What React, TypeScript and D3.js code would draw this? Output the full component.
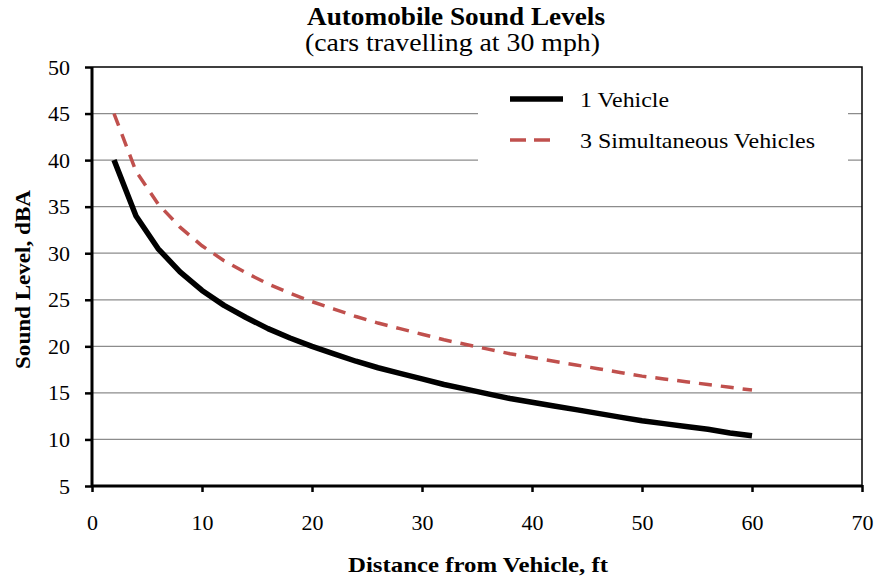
import React, { useEffect, useRef } from 'react';
import * as d3 from 'd3';

// distance from vehicle, ft
const distances = [2, 4, 6, 8, 10, 12, 14, 16, 18, 20, 22, 24, 26, 28, 30,
    32, 34, 36, 38, 40, 42, 44, 46, 48, 50, 52, 54, 56, 58, 60];

// sound level, dBA
const oneVehicle = [40.0, 34.0, 30.5, 28.0, 26.0, 24.4, 23.1, 21.9, 20.9, 20.0, 19.2, 18.4, 17.7, 17.1, 16.5,
    15.9, 15.4, 14.9, 14.4, 14.0, 13.6, 13.2, 12.8, 12.4, 12.0, 11.7, 11.4, 11.1, 10.7, 10.4];
const threeVehicles = [45.0, 38.8, 35.3, 32.8, 30.8, 29.2, 27.9, 26.7, 25.7, 24.8, 24.0, 23.2, 22.5, 21.9, 21.3,
    20.7, 20.2, 19.7, 19.2, 18.8, 18.4, 18.0, 17.6, 17.2, 16.8, 16.5, 16.2, 15.9, 15.6, 15.3];

const xTicks = [0, 10, 20, 30, 40, 50, 60, 70];
const yTicks = [5, 10, 15, 20, 25, 30, 35, 40, 45, 50];

const seriesNames = ["1 Vehicle", "3 Simultaneous Vehicles"];

export default function App() {
    const ref = useRef<SVGSVGElement>(null);

    useEffect(() => {
        const svg = d3.select(ref.current);
        svg.selectAll("*").remove();

        const width = 877;
        const height = 580;
        const margin = {top: 67, right: 15, bottom: 94, left: 92};
        const font = "'Liberation Serif'";

        const xScale = d3.scaleLinear().domain([0, 70]).range([margin.left, width - margin.right]);
        const yScale = d3.scaleLinear().domain([5, 50]).range([height - margin.bottom, margin.top]);

        // gridlines
        svg.append("g")
            .selectAll("line")
            .data(yTicks.filter(d => d > 5 && d < 50))
            .enter()
            .append("line")
            .attr("x1", xScale(0))
            .attr("x2", xScale(70))
            .attr("y1", d => yScale(d))
            .attr("y2", d => yScale(d))
            .attr("stroke", "#8c8c8c")
            .attr("stroke-width", 1.2);

        // plot border (top and right)
        svg.append("path")
            .attr("d", `M${xScale(0)},${yScale(50)}H${xScale(70)}V${yScale(5)}`)
            .attr("fill", "none")
            .attr("stroke", "#000")
            .attr("stroke-width", 1.5);

        // axes
        const xAxis = d3.axisBottom(xScale).tickValues(xTicks).tickSize(6);
        const yAxis = d3.axisLeft(yScale).tickValues(yTicks).tickSize(7).tickPadding(15);

        const gx = svg.append("g")
            .attr("transform", `translate(0, ${yScale(5)})`)
            .call(xAxis);
        const gy = svg.append("g")
            .attr("transform", `translate(${xScale(0)}, 0)`)
            .call(yAxis);

        [gx, gy].forEach(g => {
            g.attr("font-family", font);
            g.select(".domain").attr("stroke", "#000").attr("stroke-width", 3);
            g.selectAll(".tick line").attr("stroke", "#000").attr("stroke-width", 2.5);
            g.selectAll(".tick text")
                .attr("font-family", font)
                .attr("font-size", 22)
                .attr("fill", "#000");
        });
        gy.select(".domain").attr("d", `M0,${yScale(5)}V${yScale(50)}`);
        gx.select(".domain").attr("d", `M${xScale(0)},0H${xScale(70)}`);
        gx.selectAll(".tick line").attr("y1", -1);
        gx.selectAll(".tick text").attr("y", 44).attr("dy", 0);

        // legend box covers the gridlines
        svg.append("rect")
            .attr("x", 478)
            .attr("y", 80)
            .attr("width", 370)
            .attr("height", 88)
            .attr("fill", "#fff");

        // lines
        const line = d3.line<number>()
            .x((d, i) => xScale(distances[i]))
            .y(d => yScale(d));

        svg.append("path")
            .datum(threeVehicles)
            .attr("d", line)
            .attr("fill", "none")
            .attr("stroke", "#c0504d")
            .attr("stroke-width", 3.5)
            .attr("stroke-dasharray", "13,9");

        svg.append("path")
            .datum(oneVehicle)
            .attr("d", line)
            .attr("fill", "none")
            .attr("stroke", "#000")
            .attr("stroke-width", 5.5)
            .attr("stroke-linejoin", "round");

        // legend
        const legend = svg.append("g");
        legend.append("line")
            .attr("x1", 510).attr("x2", 563)
            .attr("y1", 99).attr("y2", 99)
            .attr("stroke", "#000")
            .attr("stroke-width", 5.5);
        legend.append("line")
            .attr("x1", 510).attr("x2", 550)
            .attr("y1", 140).attr("y2", 140)
            .attr("stroke", "#c0504d")
            .attr("stroke-width", 3.5)
            .attr("stroke-dasharray", "16,8");
        const legendWidths = [89, 235];
        legend.selectAll("text")
            .data(seriesNames)
            .enter()
            .append("text")
            .attr("x", 580)
            .attr("y", (d, i) => 107 + i * 41)
            .attr("font-family", font)
            .attr("font-size", 22)
            .attr("textLength", (d, i) => legendWidths[i])
            .attr("lengthAdjust", "spacingAndGlyphs")
            .text(d => d);

        // title
        svg.append("text")
            .attr("x", 307)
            .attr("y", 25)
            .attr("font-family", font)
            .attr("font-weight", "bold")
            .attr("font-size", 25)
            .attr("textLength", 298)
            .attr("lengthAdjust", "spacingAndGlyphs")
            .text("Automobile Sound Levels");
        svg.append("text")
            .attr("x", 305)
            .attr("y", 51)
            .attr("font-family", font)
            .attr("font-size", 25)
            .attr("textLength", 295)
            .attr("lengthAdjust", "spacingAndGlyphs")
            .text("(cars travelling at 30 mph)");

        // axis labels
        svg.append("text")
            .attr("x", 348)
            .attr("y", 572)
            .attr("font-family", font)
            .attr("font-weight", "bold")
            .attr("font-size", 21)
            .attr("textLength", 260)
            .attr("lengthAdjust", "spacingAndGlyphs")
            .text("Distance from Vehicle, ft");
        svg.append("text")
            .attr("transform", `translate(30, 369) rotate(-90)`)
            .attr("font-family", font)
            .attr("font-weight", "bold")
            .attr("font-size", 21)
            .attr("textLength", 179)
            .attr("lengthAdjust", "spacingAndGlyphs")
            .text("Sound Level, dBA");
    }, []);

    return (
        <svg ref={ref} width={877} height={580}
             style={{position: "absolute", left: 0, top: 0, background: "#fff"}}></svg>
    );
}
